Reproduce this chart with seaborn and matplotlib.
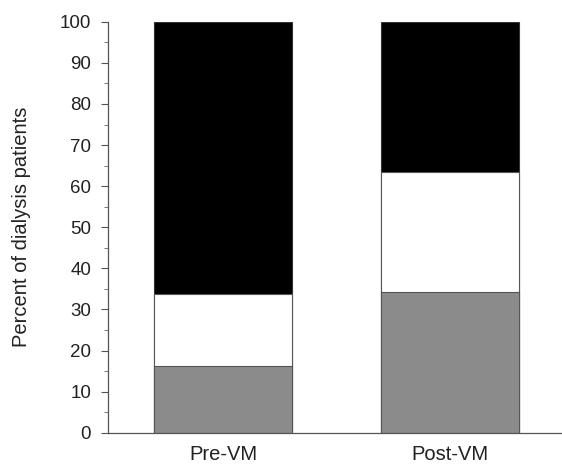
import numpy as np
import pandas as pd
import matplotlib
matplotlib.use("Agg")
import matplotlib.pyplot as plt
import seaborn as sns
from matplotlib.ticker import MultipleLocator

# values (percent of patients)
groups = ["Pre-VM", "Post-VM"]
gray_pct = [16.2, 34.3]
white_pct = [17.5, 29.1]
black_pct = [66.3, 36.6]

sns.set_style("ticks")
plt.rcParams["font.family"] = ["Liberation Sans", "DejaVu Sans"]

df = pd.DataFrame({"group": groups, "gray": gray_pct,
                   "white": white_pct, "black": black_pct})
df["white_top"] = df["gray"] + df["white"]
df["black_top"] = df["white_top"] + df["black"]

fig = plt.figure(figsize=(5.62, 4.68), dpi=100)
ax = fig.add_axes([0.192, 0.0754, 0.81, 0.878])

# stacked by drawing cumulative heights, tallest first
sns.barplot(data=df, x="group", y="black_top", color="black", width=0.61,
            edgecolor="#333333", linewidth=0.8, saturation=1, ax=ax)
sns.barplot(data=df, x="group", y="white_top", color="white", width=0.61,
            edgecolor="#555555", linewidth=0.8, saturation=1, ax=ax)
sns.barplot(data=df, x="group", y="gray", color="#8b8b8b", width=0.61,
            edgecolor="#555555", linewidth=0.8, saturation=1, ax=ax)

ax.set_ylim(0, 100)
ax.set_xlim(-0.51, 1.5)
ax.yaxis.set_major_locator(MultipleLocator(10))
ax.yaxis.set_minor_locator(MultipleLocator(5))
ax.tick_params(axis="y", which="major", length=5, width=0.8, color="#555555",
               labelsize=13.5, pad=7, labelcolor="#222222")
ax.tick_params(axis="y", which="minor", length=3, width=0.7, color="#777777")
ax.tick_params(axis="x", length=0, labelsize=14.5, pad=9, labelcolor="#222222")
ax.set_xlabel("")
ax.set_ylabel("Percent of dialysis patients", fontsize=14.5, labelpad=21,
              color="#222222")

for side in ["top", "right"]:
    ax.spines[side].set_visible(False)
for side in ["left", "bottom"]:
    ax.spines[side].set_color("#555555")
    ax.spines[side].set_linewidth(0.9)

fig.savefig("out.png", dpi=100)
